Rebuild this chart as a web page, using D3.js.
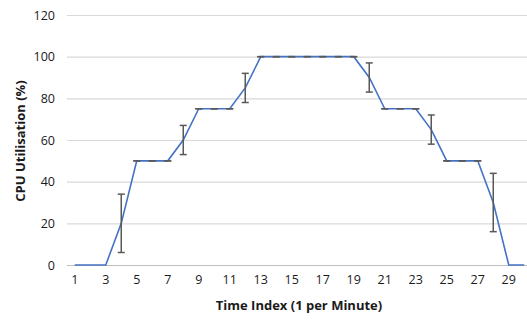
<!DOCTYPE html>
<html lang="en">
<head>
    <meta charset="UTF-8">
    <title>CPU Utilisation</title>
    <script src="https://d3js.org/d3.v7.min.js"></script>
    <style>
        body { margin: 0; background: #fff; }
        text { font-family: "Open Sans", "Liberation Sans", sans-serif; }
    </style>
</head>
<body>
    <script>
        // data
        var timeIndex = d3.range(1, 31);
        var cpuValues = [0, 0, 0, 20, 50, 50, 50, 60, 75, 75, 75, 85, 100, 100, 100,
                         100, 100, 100, 100, 90, 75, 75, 75, 65, 50, 50, 50, 30, 0, 0];
        var cpuErrors = [0, 0, 0, 14, 0, 0, 0, 7, 0, 0, 0, 7, 0, 0, 0,
                         0, 0, 0, 0, 7, 0, 0, 0, 7, 0, 0, 0, 14, 0, 0];
        var yTicks = [0, 20, 40, 60, 80, 100, 120];
        var xTickLabels = d3.range(1, 30, 2);

        var w = 527;
        var h = 323;

        var svg = d3.select("body")
            .append("svg")
            .attr("width", w)
            .attr("height", h);

        var xScale = d3.scaleBand()
            .domain(timeIndex)
            .range([67, 532]);

        var yScale = d3.scaleLinear()
            .domain([0, 120])
            .range([265, 15]);

        function cx(d) { return xScale(d) + xScale.bandwidth() / 2; }

        // gridlines
        svg.selectAll("line.grid")
            .data(yTicks)
            .enter()
            .append("line")
            .attr("class", "grid")
            .attr("x1", 67)
            .attr("x2", w)
            .attr("y1", function(d) { return yScale(d) + 0.5; })
            .attr("y2", function(d) { return yScale(d) + 0.5; })
            .attr("stroke", function(d) { return d === 0 ? "#bfbfbf" : "#d9d9d9"; })
            .attr("stroke-width", 1.2);

        // y axis labels
        var yAxis = d3.axisLeft(yScale).tickValues(yTicks).tickSize(0).tickPadding(0);
        svg.append("g")
            .attr("transform", "translate(55,0)")
            .call(yAxis)
            .call(function(g) { g.select(".domain").remove(); })
            .selectAll("text")
            .attr("font-size", "12.5px")
            .attr("fill", "#1a1a1a")
            .style("font-family", "'Open Sans', sans-serif");

        // x axis labels
        var xAxis = d3.axisBottom(xScale).tickValues(xTickLabels).tickSize(0).tickPadding(0);
        svg.append("g")
            .attr("transform", "translate(0,275)")
            .call(xAxis)
            .call(function(g) { g.select(".domain").remove(); })
            .selectAll("text")
            .attr("font-size", "12.5px")
            .attr("fill", "#1a1a1a")
            .style("font-family", "'Open Sans', sans-serif");

        // data line
        var line = d3.line()
            .x(function(d, i) { return cx(timeIndex[i]); })
            .y(function(d) { return yScale(d); });

        svg.append("path")
            .datum(cpuValues)
            .attr("d", line)
            .attr("fill", "none")
            .attr("stroke", "#4472C4")
            .attr("stroke-width", 1.6);

        // error bars (zero-error points still show their cap)
        svg.selectAll("g.err")
            .data(cpuValues)
            .enter()
            .append("g")
            .attr("class", "err")
            .attr("stroke", "#595959")
            .attr("stroke-width", 1.5)
            .each(function(d, i) {
                var g = d3.select(this);
                var x = cx(timeIndex[i]);
                var e = cpuErrors[i];
                if (d === 0) return;
                if (e > 0) {
                    g.append("line")
                        .attr("x1", x).attr("x2", x)
                        .attr("y1", yScale(d + e)).attr("y2", yScale(d - e));
                }
                [d + e, d - e].forEach(function(v) {
                    g.append("line")
                        .attr("x1", x - 3.5).attr("x2", x + 3.5)
                        .attr("y1", yScale(v)).attr("y2", yScale(v));
                });
            });

        // axis titles
        svg.append("text")
            .attr("transform", "translate(25,141) rotate(-90)")
            .attr("text-anchor", "middle")
            .attr("font-size", "13px")
            .attr("font-weight", "bold")
            .attr("fill", "#1a1a1a")
            .text("CPU Utilisation (%)");

        svg.append("text")
            .attr("x", 299)
            .attr("y", 310)
            .attr("text-anchor", "middle")
            .attr("font-size", "13px")
            .attr("font-weight", "bold")
            .attr("fill", "#1a1a1a")
            .text("Time Index (1 per Minute)");
    </script>
</body>
</html>
